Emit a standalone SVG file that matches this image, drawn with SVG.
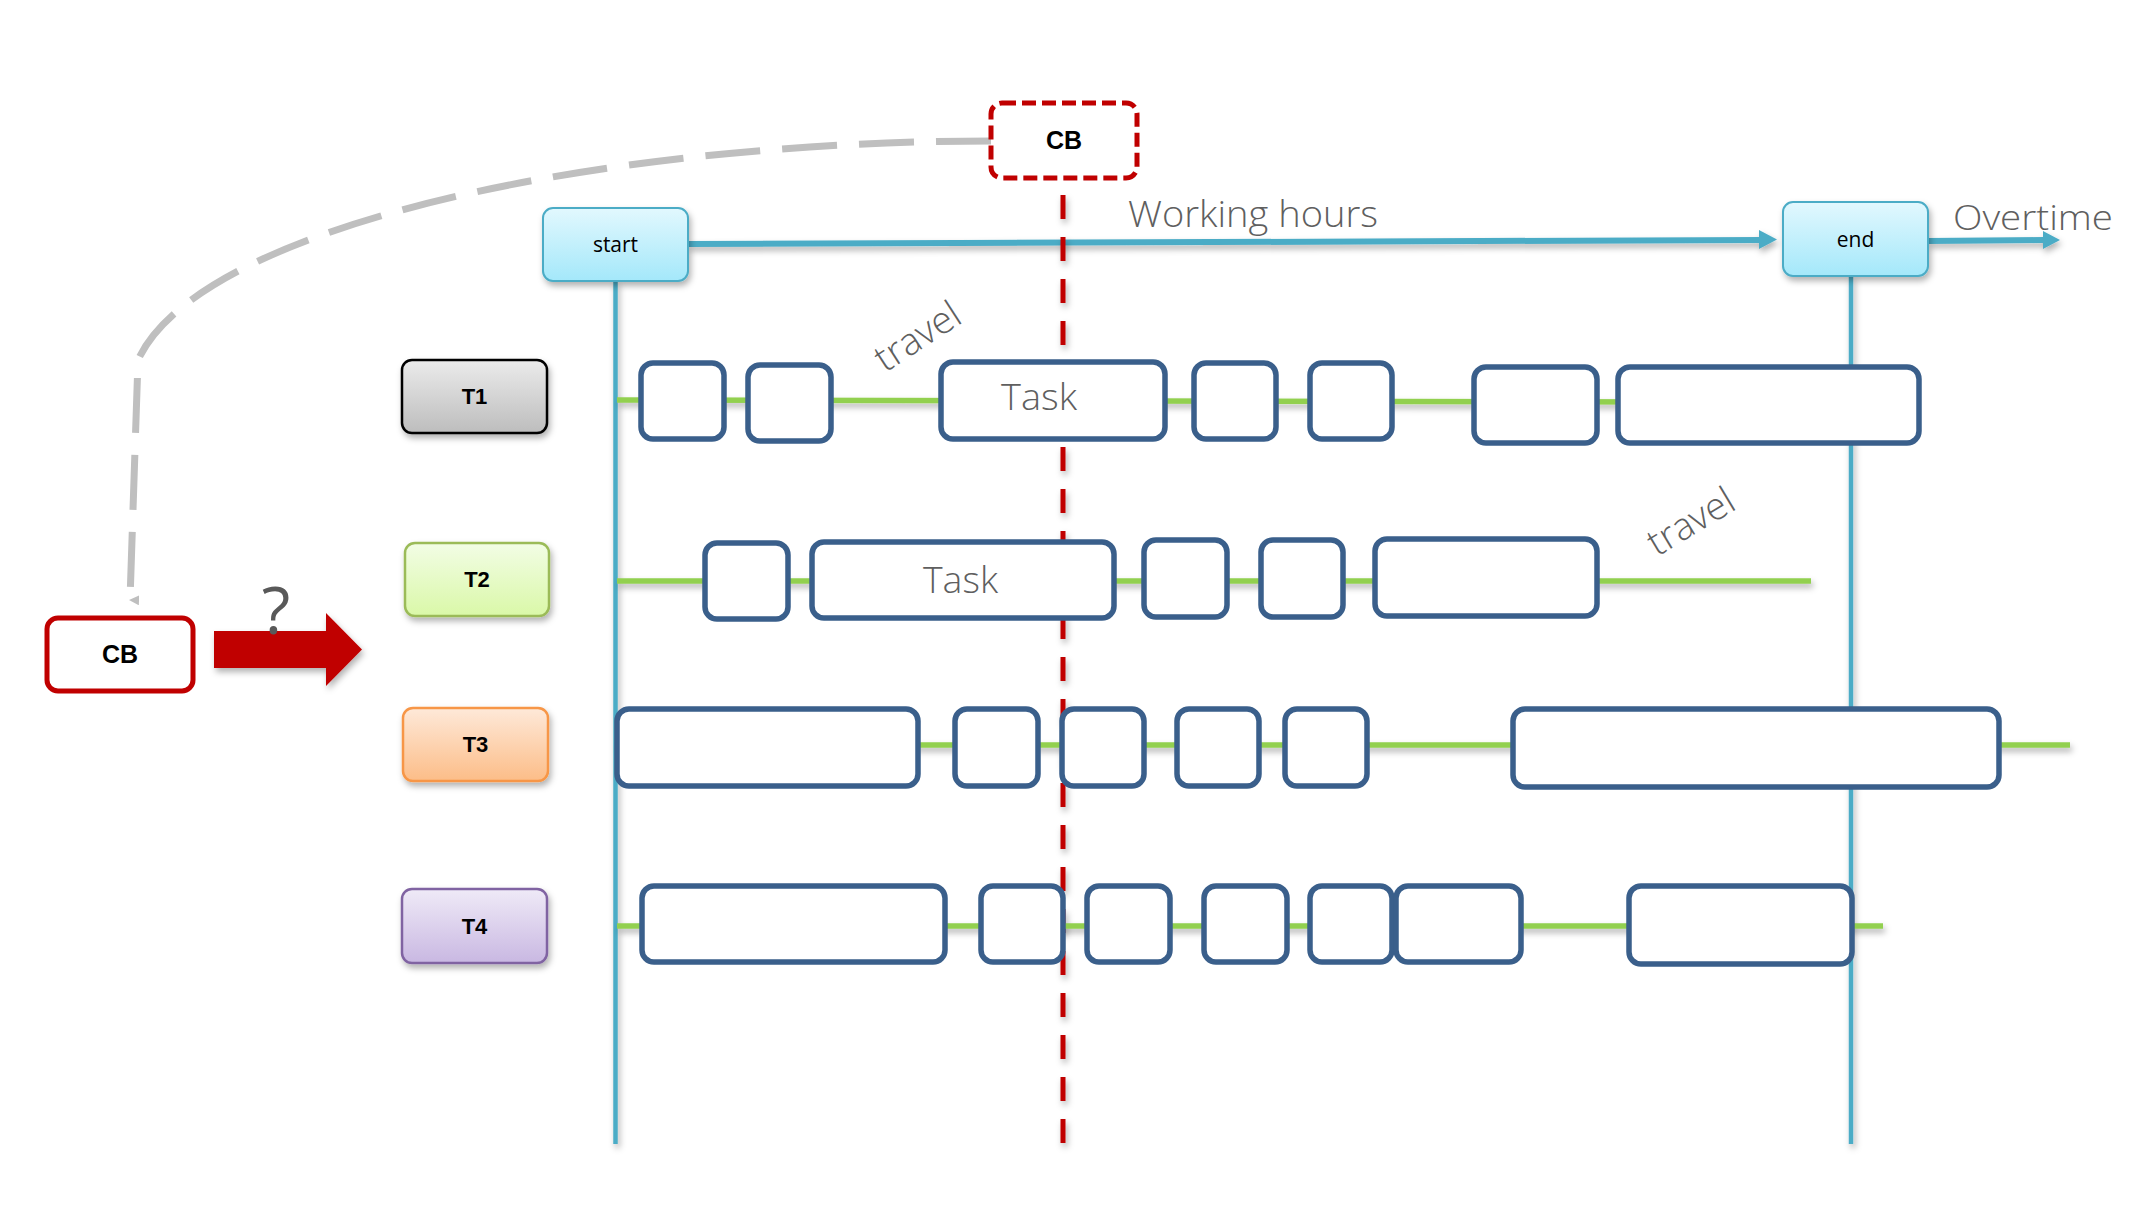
<svg xmlns="http://www.w3.org/2000/svg" width="2129" height="1205" viewBox="0 0 2129 1205">
<defs>
<filter id="sh" filterUnits="userSpaceOnUse" x="0" y="0" width="2129" height="1205">
<feDropShadow dx="2" dy="4" stdDeviation="3" flood-color="#000" flood-opacity="0.3"/>
</filter>
<linearGradient id="gCyan" x1="0" y1="0" x2="0" y2="1"><stop offset="0" stop-color="#E2F8FE"/><stop offset="1" stop-color="#A4E8FA"/></linearGradient>
<linearGradient id="gGray" x1="0" y1="0" x2="0" y2="1"><stop offset="0" stop-color="#EBEBEB"/><stop offset="1" stop-color="#BDBDBD"/></linearGradient>
<linearGradient id="gGreen" x1="0" y1="0" x2="0" y2="1"><stop offset="0" stop-color="#F2FDE5"/><stop offset="1" stop-color="#DAF8A8"/></linearGradient>
<linearGradient id="gOrange" x1="0" y1="0" x2="0" y2="1"><stop offset="0" stop-color="#FEE9D9"/><stop offset="1" stop-color="#FCBD88"/></linearGradient>
<linearGradient id="gPurple" x1="0" y1="0" x2="0" y2="1"><stop offset="0" stop-color="#EFEAF7"/><stop offset="1" stop-color="#C9B8E2"/></linearGradient>
<marker id="grayHead" viewBox="0 0 10 10" refX="5" refY="9" markerWidth="10" markerHeight="10" markerUnits="userSpaceOnUse" orient="auto">
<path d="M0,0 L10,0 L5,10 Z" fill="#BFBFBF"/>
</marker>
</defs>
<style>
.task{fill:#FFFFFF;stroke:#3A5F8B;stroke-width:5.5}
.grn{stroke:#92D050;stroke-width:5.5;fill:none}
.vblu{stroke:#4BACC6;stroke-width:4.5;fill:none}
.lbl{font-family:"Liberation Sans",Arial,sans-serif;font-weight:bold;text-anchor:middle;fill:#000}
.gt{font-family:"Open Sans","Noto Sans",sans-serif;font-weight:300;fill:#5F5F5F}
.se{font-family:"Open Sans","Noto Sans",sans-serif;font-size:21px;text-anchor:middle;fill:#000}
.tbox{stroke-width:2.5}
</style>
<rect width="2129" height="1205" fill="#FFFFFF"/>

<g id="connectors">
<path d="M991,141 C600,141 200,225 138,360 L130,600" fill="none" stroke="#BFBFBF" stroke-width="7" stroke-dasharray="55 22" marker-end="url(#grayHead)"/>
<line class="vblu" x1="615.5" y1="281" x2="615.5" y2="1144" filter="url(#sh)"/>
<line class="vblu" x1="1851" y1="276" x2="1851" y2="1144" filter="url(#sh)"/>
<g filter="url(#sh)">
<line x1="688" y1="244" x2="1762" y2="240" stroke="#4BACC6" stroke-width="6"/>
<polygon points="1759,230 1777,239.5 1759,249" fill="#4BACC6"/>
</g>
<g filter="url(#sh)">
<line x1="1928" y1="241" x2="2045" y2="240" stroke="#4BACC6" stroke-width="6"/>
<polygon points="2043,231 2060,240 2043,249" fill="#4BACC6"/>
</g>
<line x1="1063" y1="195" x2="1063" y2="1144" stroke="#C00000" stroke-width="5" stroke-dasharray="24 18" filter="url(#sh)"/>
<g filter="url(#sh)">
<line class="grn" x1="617" y1="400" x2="1700" y2="402"/>
<line class="grn" x1="617" y1="581" x2="1811" y2="581"/>
<line class="grn" x1="617" y1="745" x2="2070" y2="745"/>
<line class="grn" x1="617" y1="926" x2="1883" y2="926"/>
</g>
<polygon points="214,631 326,631 326,613 362,649.5 326,686 326,668 214,668" fill="#C00000" filter="url(#sh)"/>
</g>

<g id="cb-top">
<rect x="991" y="103" width="146" height="75" rx="11" fill="#FFFFFF" stroke="#C00000" stroke-width="5" stroke-dasharray="14 6"/>
<text class="lbl" x="1064" y="149" font-size="25">CB</text>
</g>

<g id="cb-left">
<rect x="47" y="618" width="146" height="73" rx="11" fill="#FFFFFF" stroke="#C00000" stroke-width="5"/>
<text class="lbl" x="120" y="663" font-size="25">CB</text>
</g>

<g id="start">
<rect x="543" y="208" width="145" height="73" rx="10" fill="url(#gCyan)" stroke="#4BACC6" stroke-width="2" filter="url(#sh)"/>
<text class="se" x="615.5" y="252">start</text>
</g>

<g id="end">
<rect x="1783" y="202" width="145" height="74" rx="10" fill="url(#gCyan)" stroke="#4BACC6" stroke-width="2" filter="url(#sh)"/>
<text class="se" x="1855.5" y="247">end</text>
</g>

<g id="T1">
<rect class="tbox" x="402" y="360" width="145" height="73" rx="10" fill="url(#gGray)" stroke="#000000" filter="url(#sh)"/>
<text class="lbl" x="474.5" y="404" font-size="22">T1</text>
</g>
<g id="T2">
<rect class="tbox" x="405" y="543" width="144" height="73" rx="10" fill="url(#gGreen)" stroke="#9BBB59" filter="url(#sh)"/>
<text class="lbl" x="477" y="587" font-size="22">T2</text>
</g>
<g id="T3">
<rect class="tbox" x="403" y="708" width="145" height="73" rx="10" fill="url(#gOrange)" stroke="#F79646" filter="url(#sh)"/>
<text class="lbl" x="475.5" y="752" font-size="22">T3</text>
</g>
<g id="T4">
<rect class="tbox" x="402" y="889" width="145" height="74" rx="10" fill="url(#gPurple)" stroke="#8064A2" filter="url(#sh)"/>
<text class="lbl" x="474.5" y="934" font-size="22">T4</text>
</g>

<g id="row-T1-tasks">
<rect class="task" x="641" y="363" width="83" height="76" rx="12"/>
<rect class="task" x="748" y="365" width="83" height="76" rx="12"/>
<rect class="task" x="941" y="362" width="224" height="77" rx="12"/>
<rect class="task" x="1194" y="363" width="82" height="76" rx="12"/>
<rect class="task" x="1310" y="363" width="82" height="76" rx="12"/>
<rect class="task" x="1474" y="367" width="123" height="76" rx="12"/>
<rect class="task" x="1618" y="367" width="301" height="76" rx="12"/>
</g>
<g id="row-T2-tasks">
<rect class="task" x="705" y="543" width="83" height="76" rx="12"/>
<rect class="task" x="812" y="542" width="302" height="76" rx="12"/>
<rect class="task" x="1144" y="540" width="83" height="77" rx="12"/>
<rect class="task" x="1261" y="540" width="82" height="77" rx="12"/>
<rect class="task" x="1375" y="539" width="222" height="77" rx="12"/>
</g>
<g id="row-T3-tasks">
<rect class="task" x="617" y="709" width="301" height="77" rx="12"/>
<rect class="task" x="955" y="709" width="83" height="77" rx="12"/>
<rect class="task" x="1062" y="709" width="82" height="77" rx="12"/>
<rect class="task" x="1177" y="709" width="82" height="77" rx="12"/>
<rect class="task" x="1285" y="709" width="82" height="77" rx="12"/>
<rect class="task" x="1513" y="709" width="486" height="78" rx="12"/>
</g>
<g id="row-T4-tasks">
<rect class="task" x="642" y="886" width="303" height="76" rx="12"/>
<rect class="task" x="981" y="886" width="82" height="76" rx="12"/>
<rect class="task" x="1087" y="886" width="83" height="76" rx="12"/>
<rect class="task" x="1204" y="886" width="83" height="76" rx="12"/>
<rect class="task" x="1310" y="886" width="82" height="76" rx="12"/>
<rect class="task" x="1396" y="886" width="125" height="76" rx="12"/>
<rect class="task" x="1629" y="886" width="223" height="78" rx="12"/>
</g>

<g id="labels">
<text class="gt" x="1128" y="227" font-size="37" textLength="250" lengthAdjust="spacingAndGlyphs">Working hours</text>
<text class="gt" x="1953" y="230" font-size="35" textLength="160" lengthAdjust="spacingAndGlyphs">Overtime</text>
<text class="gt" x="1001" y="410" font-size="37" textLength="76" lengthAdjust="spacingAndGlyphs">Task</text>
<text class="gt" x="923" y="593" font-size="37" textLength="75" lengthAdjust="spacingAndGlyphs">Task</text>
<text class="gt" x="0" y="0" font-size="38" transform="translate(885,373) rotate(-33)">travel</text>
<text class="gt" x="0" y="0" font-size="38" transform="translate(1657,557) rotate(-31)">travel</text>
<text x="276" y="634" font-size="66" text-anchor="middle" font-family="'Open Sans','Noto Sans',sans-serif" fill="#595959">?</text>
</g>
</svg>
